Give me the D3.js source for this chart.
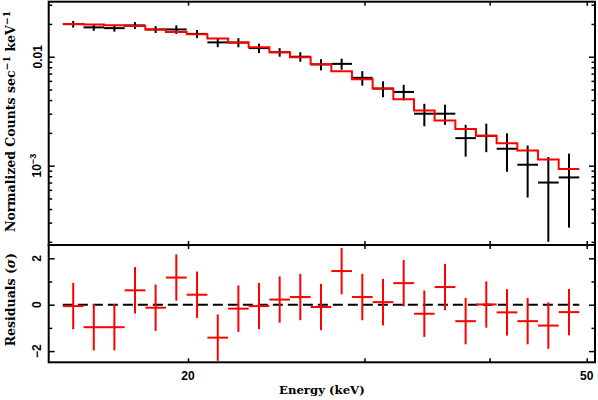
<!DOCTYPE html>
<html>
<head>
<meta charset="utf-8">
<title>Spectrum with residuals</title>
<script src="https://d3js.org/d3.v7.min.js"></script>
<style>
    body { margin: 0; background: #fff; }
    svg { display: block; }
    .num { font-family: "Liberation Sans", Arial, sans-serif; font-weight: bold; font-size: 12px; }
    .title { font-family: "DejaVu Serif", serif; font-weight: bold; font-size: 12.5px; }
</style>
</head>
<body>
<script>

// energy bin edges (keV), 25 bins
var edges = [15.00, 15.73, 16.49, 17.29, 18.13, 19.01, 19.94, 20.91, 21.93, 22.99,
             24.11, 25.28, 26.51, 27.80, 29.15, 30.57, 32.06, 33.62, 35.25, 36.97,
             38.76, 40.65, 42.63, 44.70, 46.88, 49.15];

// normalized counts (counts/s/keV) and 1-sigma errors
var counts = [0.0199, 0.0186, 0.0183, 0.0194, 0.0178, 0.0178, 0.0162, 0.01354, 0.0135, 0.0120,
              0.0110, 0.0100, 0.0085, 0.0086, 0.0064, 0.0051, 0.00475, 0.0030, 0.0030, 0.00179,
              0.00188, 0.00143, 0.00102, 0.00070, 0.00078];
var countErr = [0.0014, 0.0013, 0.0013, 0.0014, 0.0013, 0.0016, 0.0014, 0.0013, 0.0013, 0.0012,
                0.0010, 0.0010, 0.0010, 0.0010, 0.00097, 0.00085, 0.00077, 0.00070, 0.00063, 0.00058,
                0.00055, 0.00055, 0.00051, 0.00050, 0.00051];

// folded model per bin
var model = [0.0200, 0.0198, 0.0195, 0.0191, 0.0178, 0.0169, 0.0161, 0.0147, 0.01354, 0.0122,
             0.0110, 0.00987, 0.00852, 0.00735, 0.00621, 0.00510, 0.00408, 0.00321, 0.00260, 0.00217,
             0.00188, 0.00161, 0.00138, 0.00114, 0.000933];

// residuals in sigma (error bars are +-1 sigma)
var resid = [-0.06, -0.97, -0.97, 0.62, -0.13, 1.17, 0.43, -1.42, -0.17, -0.06,
             0.22, 0.33, -0.10, 1.45, 0.33, 0.11, 0.93, -0.39, 0.76, -0.71,
             0.01, -0.33, -0.71, -0.90, -0.32];

var xTicks = [20, 30, 40, 50];
var xLabels = [20, 50];
var residTicks = [-2, 0, 2];
var residMinor = [-1, 1];

var W = 598, H = 400;
var pLeft = 48.7, pRight = 595, pTop = 1.7, pMid = 245, pBottom = 362.3;

var bins = counts.map(function (c, i) {
    return { lo: edges[i], hi: edges[i + 1], mid: Math.sqrt(edges[i] * edges[i + 1]),
             c: c, e: countErr[i], m: model[i], r: resid[i] };
});

var x = d3.scaleLog().domain([14.52, 50.96]).range([pLeft, pRight]);
var y = d3.scaleLog().domain([1.87e-4, 0.032]).range([pMid, pTop]);
var yr = d3.scaleLinear().domain([-2.483, 2.573]).range([pBottom, pMid]);

var svg = d3.select("body").append("svg")
    .attr("width", W)
    .attr("height", H);

// ---- top panel: data crosses
var gTop = svg.append("g");
gTop.selectAll("line.h").data(bins).enter().append("line")
    .attr("x1", function (d) { return x(d.lo); })
    .attr("x2", function (d) { return x(d.hi); })
    .attr("y1", function (d) { return y(d.c); })
    .attr("y2", function (d) { return y(d.c); })
    .style("stroke", "#000").style("stroke-width", 2);
gTop.selectAll("line.v").data(bins).enter().append("line")
    .attr("x1", function (d) { return x(d.mid); })
    .attr("x2", function (d) { return x(d.mid); })
    .attr("y1", function (d) { return y(d.c + d.e); })
    .attr("y2", function (d) { return y(d.c - d.e); })
    .style("stroke", "#000").style("stroke-width", 2);

// model histogram
var steps = [];
bins.forEach(function (d) { steps.push([d.lo, d.m]); steps.push([d.hi, d.m]); });
gTop.append("path")
    .datum(steps)
    .attr("d", d3.line().x(function (d) { return x(d[0]); }).y(function (d) { return y(d[1]); }))
    .style("fill", "none").style("stroke", "#ff0000").style("stroke-width", 2);

// ---- bottom panel: residuals
var gBot = svg.append("g");
gBot.append("line")
    .attr("x1", x(edges[0])).attr("x2", x(edges[edges.length - 1]))
    .attr("y1", yr(0)).attr("y2", yr(0))
    .style("stroke", "#000").style("stroke-width", 2)
    .style("stroke-dasharray", "10,5");
gBot.selectAll("line.h").data(bins).enter().append("line")
    .attr("x1", function (d) { return x(d.lo); })
    .attr("x2", function (d) { return x(d.hi); })
    .attr("y1", function (d) { return yr(d.r); })
    .attr("y2", function (d) { return yr(d.r); })
    .style("stroke", "#ff0000").style("stroke-width", 2);
gBot.selectAll("line.v").data(bins).enter().append("line")
    .attr("x1", function (d) { return x(d.mid); })
    .attr("x2", function (d) { return x(d.mid); })
    .attr("y1", function (d) { return yr(d.r + 1); })
    .attr("y2", function (d) { return yr(d.r - 1); })
    .style("stroke", "#ff0000").style("stroke-width", 2);

// ---- axes (ticks inside, no labels) on every edge
function styleAxis(g) {
    g.select(".domain").remove();
    g.selectAll("line").style("stroke", "#000").style("stroke-width", 1.5);
    g.selectAll("text").remove();
}
function xEdge(yPos, up) {
    var ax = (up ? d3.axisBottom(x) : d3.axisTop(x)).tickValues(xTicks).tickSize(-4);
    svg.append("g").attr("transform", "translate(0," + yPos + ")").call(ax).call(styleAxis);
}
xEdge(pTop, false);
xEdge(pMid, true);
xEdge(pMid, false);
xEdge(pBottom, true);

// log y minor/major ticks for top panel
var yMajor = [0.001, 0.01];
var yMinor = [];
[1e-4, 1e-3, 1e-2].forEach(function (dec) {
    for (var k = 2; k <= 9; k++) {
        var v = dec * k;
        if (v >= y.domain()[0] && v <= y.domain()[1]) yMinor.push(v);
    }
});
function yEdges(scale, major, minor) {
    [[pLeft, d3.axisRight], [pRight, d3.axisLeft]].forEach(function (p) {
        svg.append("g").attr("transform", "translate(" + p[0] + ",0)")
            .call(p[1](scale).tickValues(major).tickSize(6)).call(styleAxis);
        svg.append("g").attr("transform", "translate(" + p[0] + ",0)")
            .call(p[1](scale).tickValues(minor).tickSize(3.5)).call(styleAxis);
    });
}
yEdges(y, yMajor, yMinor);
yEdges(yr, residTicks, residMinor);

// frames
[[pTop, pMid], [pMid, pBottom]].forEach(function (p) {
    svg.append("rect")
        .attr("x", pLeft).attr("y", p[0])
        .attr("width", pRight - pLeft).attr("height", p[1] - p[0])
        .style("fill", "none").style("stroke", "#000").style("stroke-width", 2);
});

// ---- tick labels
svg.selectAll("text.xl").data(xLabels).enter().append("text")
    .attr("class", "num")
    .attr("x", function (d) { return x(d); })
    .attr("y", 380)
    .attr("text-anchor", "middle")
    .text(function (d) { return d; });

function rotLabel(xPos, yPos) {
    return svg.append("text").attr("class", "num")
        .attr("transform", "translate(" + xPos + "," + yPos + ") rotate(-90)")
        .attr("text-anchor", "middle");
}
rotLabel(41.5, y(0.01)).text("0.01");
var t3 = rotLabel(41, y(0.001));
t3.append("tspan").text("10");
t3.append("tspan").attr("dy", -5).style("font-size", "9px").text("\u22123");

residTicks.forEach(function (v) {
    rotLabel(40.5, yr(v)).text(v < 0 ? "\u2212" + Math.abs(v) : String(v));
});

// ---- axis titles
svg.append("text").attr("class", "title")
    .attr("x", (pLeft + pRight) / 2).attr("y", 394)
    .attr("text-anchor", "middle")
    .style("font-size", "11.7px")
    .text("Energy (keV)");

var yt = svg.append("text").attr("class", "title")
    .attr("transform", "translate(15," + ((pTop + pMid) / 2 - 2) + ") rotate(-90)")
    .attr("text-anchor", "middle");
yt.append("tspan").text("Normalized Counts sec");
yt.append("tspan").attr("dy", -5).style("font-size", "9.5px").text("\u22121");
yt.append("tspan").attr("dy", 5).text(" keV");
yt.append("tspan").attr("dy", -5).style("font-size", "9.5px").text("\u22121");

var rt = svg.append("text").attr("class", "title")
    .attr("transform", "translate(15," + ((pMid + pBottom) / 2 - 4) + ") rotate(-90)")
    .attr("text-anchor", "middle");
rt.append("tspan").text("Residuals (");
rt.append("tspan").style("font-style", "italic").text("\u03c3");
rt.append("tspan").text(")");

</script>
</body>
</html>
